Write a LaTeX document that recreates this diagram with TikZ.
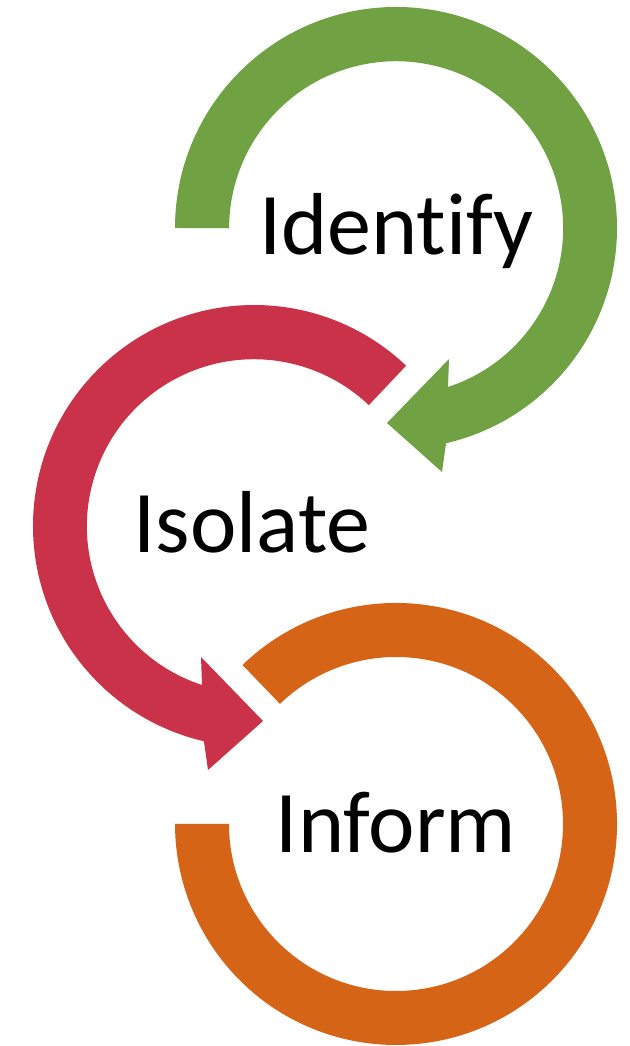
\documentclass[tikz,border=0pt]{standalone}
\usepackage{fontspec}
\setmainfont{Carlito}[Ligatures={NoCommon}]
\definecolor{gcol}{RGB}{112,162,68}
\definecolor{rcol}{RGB}{201,50,72}
\definecolor{ocol}{RGB}{214,100,22}
\begin{document}
\begin{tikzpicture}[x=1pt,y=1pt,
  lbl/.style={anchor=base,inner sep=0pt,font=\fontsize{88}{100}\selectfont,text=black}]
\useasboundingbox[fill=white] (0,0) rectangle (629,1046);
% green (Identify)
\fill[gcol] (175,818) arc[start angle=180,end angle=-76.9,radius=221pt]
  -- (442,574) -- (387,623) -- (449,687) -- (448,659)
  arc[start angle=-71.9,end angle=180,radius=167pt] -- cycle;
% red (Isolate)
\fill[rcol] (406.1,680.3) arc[start angle=46.5,end angle=256.9,radius=221pt]
  -- (208,276) -- (263,325) -- (201,389) -- (202,361)
  arc[start angle=251.9,end angle=46.5,radius=167pt] -- cycle;
% orange (Inform)
\fill[ocol] (242.5,381) arc[start angle=134,end angle=-180,radius=221pt]
  -- (229,222) arc[start angle=-180,end angle=134,radius=167pt] -- cycle;
\node[lbl] (identify) at (396.5,791) {Identify};
\node[lbl] (isolate) at (252,493) {Isolate};
\node[lbl] (inform) at (396,193) {Inform};
\end{tikzpicture}
\end{document}
